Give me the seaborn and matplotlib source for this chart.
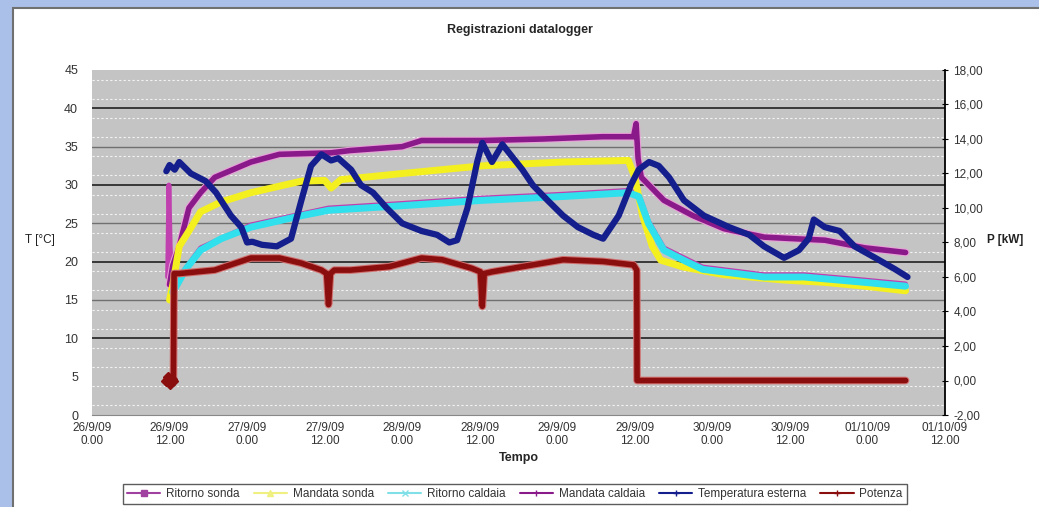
import numpy as np
import pandas as pd
import matplotlib
matplotlib.use('Agg')
import matplotlib.pyplot as plt
import matplotlib.patheffects as pe
from matplotlib.lines import Line2D
import seaborn as sns

# hours from 26/9/09 0.00
t_mc = [12.0, 12.5, 13.5, 15.0, 16.8, 19.0, 24.6, 29.0, 37.0, 40.0, 48.0, 51.0, 60.4, 69.8, 79.0, 83.8, 84.2, 84.5, 85.0, 88.5, 93.0, 97.8, 104.0, 108.5, 113.4, 119.6, 125.9]
mandata_caldaia = [17.0, 19.5, 22.0, 27.0, 29.0, 31.0, 33.0, 34.0, 34.2, 34.5, 35.0, 35.8, 35.8, 36.0, 36.3, 36.3, 38.0, 33.5, 31.0, 28.0, 26.0, 24.3, 23.2, 23.0, 22.8, 21.8, 21.2]

t_ms = [12.0, 12.5, 13.5, 15.0, 16.8, 20.0, 24.6, 32.4, 36.0, 37.0, 38.5, 48.0, 60.4, 72.9, 83.0, 84.0, 85.2, 86.7, 88.0, 91.5, 97.8, 107.1, 113.4, 119.6, 125.9]
mandata_sonda = [15.0, 17.0, 22.0, 24.0, 26.5, 27.8, 29.0, 30.5, 30.6, 29.6, 30.7, 31.5, 32.5, 33.0, 33.2, 31.0, 26.0, 22.0, 20.2, 19.3, 18.3, 17.6, 17.3, 16.8, 16.2]

t_rc = [12.5, 13.5, 14.5, 16.8, 20.0, 24.6, 32.4, 36.6, 48.0, 60.4, 72.9, 83.0, 84.6, 86.1, 88.5, 92.0, 94.5, 104.0, 110.2, 119.6, 125.9]
ritorno_caldaia = [16.0, 17.5, 19.0, 21.5, 23.0, 24.5, 26.0, 26.7, 27.3, 28.0, 28.5, 29.0, 28.5, 25.0, 21.5, 20.0, 19.0, 18.0, 18.0, 17.3, 16.8]

t_rs = [11.7, 11.9, 12.1, 12.4, 12.7, 13.5, 16.8, 24.6, 36.6, 48.0, 60.4, 72.9, 83.0, 84.6, 86.1, 88.5, 94.5, 104.0, 110.2, 119.6, 125.9]
ritorno_sonda = [18.0, 30.0, 22.0, 17.0, 16.5, 18.0, 21.8, 24.8, 27.0, 27.6, 28.3, 28.8, 29.3, 28.8, 25.3, 21.8, 19.3, 18.3, 18.3, 17.6, 17.1]

t_te = [11.5, 12.0, 12.8, 13.5, 15.3, 17.6, 19.2, 21.5, 23.1, 24.0, 24.8, 26.3, 28.6, 30.8, 32.4, 33.9, 35.5, 37.0, 38.1, 40.1, 41.6, 43.5, 45.6, 48.0, 51.0, 53.4, 55.3, 56.5, 58.1, 59.6, 60.4, 61.9, 63.5, 66.6, 68.2, 70.5, 72.9, 75.2, 77.6, 79.1, 81.5, 83.4, 84.6, 86.2, 87.7, 89.3, 91.6, 94.7, 98.6, 101.7, 104.0, 107.1, 109.4, 110.9, 111.7, 113.4, 115.7, 118.0, 121.2, 124.3, 126.2]
temp_esterna = [31.8, 32.6, 32.0, 33.0, 31.5, 30.5, 29.0, 26.0, 24.5, 22.5, 22.6, 22.2, 22.0, 23.0, 28.0, 32.5, 34.0, 33.2, 33.5, 32.0, 30.0, 29.0, 27.0, 25.0, 24.0, 23.5, 22.5, 22.8, 27.0, 33.0, 35.5, 33.0, 35.3, 32.0, 30.0, 28.0, 26.0, 24.5, 23.5, 23.0, 26.0, 30.0, 32.0, 33.0, 32.5, 31.0, 28.0, 26.0, 24.5, 23.5, 22.0, 20.5, 21.5, 23.0, 25.5, 24.5, 24.0, 22.0, 20.5, 19.0, 18.0]

# Potenza in kW (right axis)
t_p = [11.5, 11.8, 12.1, 12.4, 12.6, 12.7, 13.5, 19.0, 24.6, 29.0, 32.4, 35.5, 36.3, 36.6, 36.9, 37.5, 40.0, 46.0, 51.0, 54.2, 58.8, 60.1, 60.4, 60.7, 61.9, 66.6, 72.9, 79.1, 83.8, 84.3, 84.35, 125.9]
potenza = [0.0, 0.2, -0.2, 0.1, 0.0, 6.2, 6.2, 6.4, 7.1, 7.1, 6.8, 6.4, 6.2, 4.4, 6.2, 6.4, 6.4, 6.6, 7.1, 7.0, 6.5, 6.3, 4.3, 6.2, 6.3, 6.6, 7.0, 6.9, 6.7, 6.4, 0.0, 0.0]

x_ticks = list(range(0, 133, 12))
x_labels = ['26/9/09\n0.00', '26/9/09\n12.00', '27/9/09\n0.00', '27/9/09\n12.00',
            '28/9/09\n0.00', '28/9/09\n12.00', '29/9/09\n0.00', '29/9/09\n12.00',
            '30/9/09\n0.00', '30/9/09\n12.00', '01/10/09\n0.00', '01/10/09\n12.00']
y_right_ticks = [-2, 0, 2, 4, 6, 8, 10, 12, 14, 16, 18]
legend_labels = ['Ritorno sonda', 'Mandata sonda', 'Ritorno caldaia', 'Mandata caldaia',
                 'Temperatura esterna', 'Potenza']

sns.set_style('white')
plt.rcParams['font.family'] = ['Liberation Sans', 'DejaVu Sans']

fig = plt.figure(figsize=(10.39, 5.07), dpi=100, facecolor='#abc0e8')
# white panel behind the chart
fig.patches.append(plt.Rectangle((13 / 1039, -0.01), 1 - 13 / 1039 + 0.01, 1 - 8 / 507 + 0.01,
                                 transform=fig.transFigure, facecolor='white',
                                 edgecolor='#707070', lw=1.5, zorder=-10))

ax = fig.add_axes([92 / 1039, 1 - 415 / 507, (945 - 92) / 1039, (415 - 70) / 507])
ax.set_facecolor('#c4c4c4')
ax2 = ax.twinx()

halo = [pe.Stroke(linewidth=5.5, foreground='#e9a0d8'), pe.Normal()]
sns.lineplot(x=t_rs, y=ritorno_sonda, ax=ax, color='#c040b0', lw=3.5, sort=False)
sns.lineplot(x=t_mc, y=mandata_caldaia, ax=ax, color='#8a1a8a', lw=4, path_effects=halo, sort=False)
sns.lineplot(x=t_ms, y=mandata_sonda, ax=ax, color='#f4f020', lw=5, sort=False)
sns.lineplot(x=t_rc, y=ritorno_caldaia, ax=ax, color='#30e0ec', lw=5, sort=False)
sns.lineplot(x=t_te, y=temp_esterna, ax=ax, color='#141e8c', lw=4.5, sort=False)
sns.lineplot(x=t_p, y=potenza, ax=ax2, color='#8a0e0e', lw=4, sort=False,
             path_effects=[pe.Stroke(linewidth=5.5, foreground='#d07070'), pe.Normal()])
ax2.plot(t_p[:5], potenza[:5], ls='none', marker='D', ms=5, color='#8a0e0e')

ax.set_xlim(0, 132)
ax.set_ylim(0, 45)
ax2.set_ylim(-2, 18)
ax.set_xticks(x_ticks)
ax.set_xticklabels(x_labels, fontsize=8.5, color='#333333', linespacing=1.1)
ax.set_yticks(range(0, 46, 5))
ax.tick_params(axis='y', labelsize=9, colors='#333333', length=0, pad=10)
ax.tick_params(axis='x', length=3, color='#555555', direction='inout')
ax2.set_yticks(y_right_ticks)
ax2.set_yticklabels(['%d,00' % v for v in y_right_ticks], fontsize=8.5, color='#333333')
ax2.tick_params(axis='y', length=4, direction='inout', color='black', pad=4)

# gridlines
for v in [10, 20, 30, 40]:
    ax.axhline(v, color='#202020', lw=1.2, zorder=0.5)
for v in [15, 25, 35]:
    ax.axhline(v, color='#707070', lw=1, zorder=0.5)
for v in np.arange(1.25, 45, 2.5):
    ax.axhline(v, color='white', lw=0.8, ls=(0, (2, 2)), alpha=0.8, zorder=0.4)

for a in (ax, ax2):
    for s in a.spines.values():
        s.set_visible(False)
ax2.spines['right'].set_visible(True)
ax2.spines['right'].set_color('black')
ax2.spines['right'].set_linewidth(1.3)
ax.spines['bottom'].set_visible(True)
ax.spines['bottom'].set_color('#888888')

ax.set_xlabel('Tempo', fontsize=9, fontweight='bold', labelpad=4)
ax.set_ylabel('')
ax2.set_ylabel('')
fig.text(25 / 1039, 1 - 240 / 507, 'T [°C]', fontsize=8.5, va='center', color='#222222')
fig.text(987 / 1039, 1 - 240 / 507, 'P [kW]', fontsize=8.5, fontweight='bold', va='center', color='#222222')
fig.text(520 / 1039, 1 - 30 / 507, 'Registrazioni datalogger', fontsize=9, fontweight='bold',
         ha='center', va='center')

leg_handles = [
    Line2D([], [], color='#a040a0', marker='s', ms=4, lw=1.5),
    Line2D([], [], color='#f0f080', marker='^', ms=4, lw=1.5),
    Line2D([], [], color='#80e0e8', marker='x', ms=4, lw=1.5),
    Line2D([], [], color='#8a1a8a', marker='|', ms=5, lw=1.5),
    Line2D([], [], color='#141e8c', marker='+', ms=5, lw=1.5),
    Line2D([], [], color='#8a0e0e', marker='+', ms=5, lw=1.5),
]
fig.legend(leg_handles, legend_labels, loc='center', bbox_to_anchor=(515 / 1039, 1 - 494 / 507), ncol=6,
           fontsize=8.5, frameon=True, fancybox=False, edgecolor='#333333', handlelength=2.8,
           columnspacing=1.2, handletextpad=0.5, borderpad=0.35, labelcolor='#333333')

fig.savefig('out.png', dpi=100, facecolor=fig.get_facecolor())
